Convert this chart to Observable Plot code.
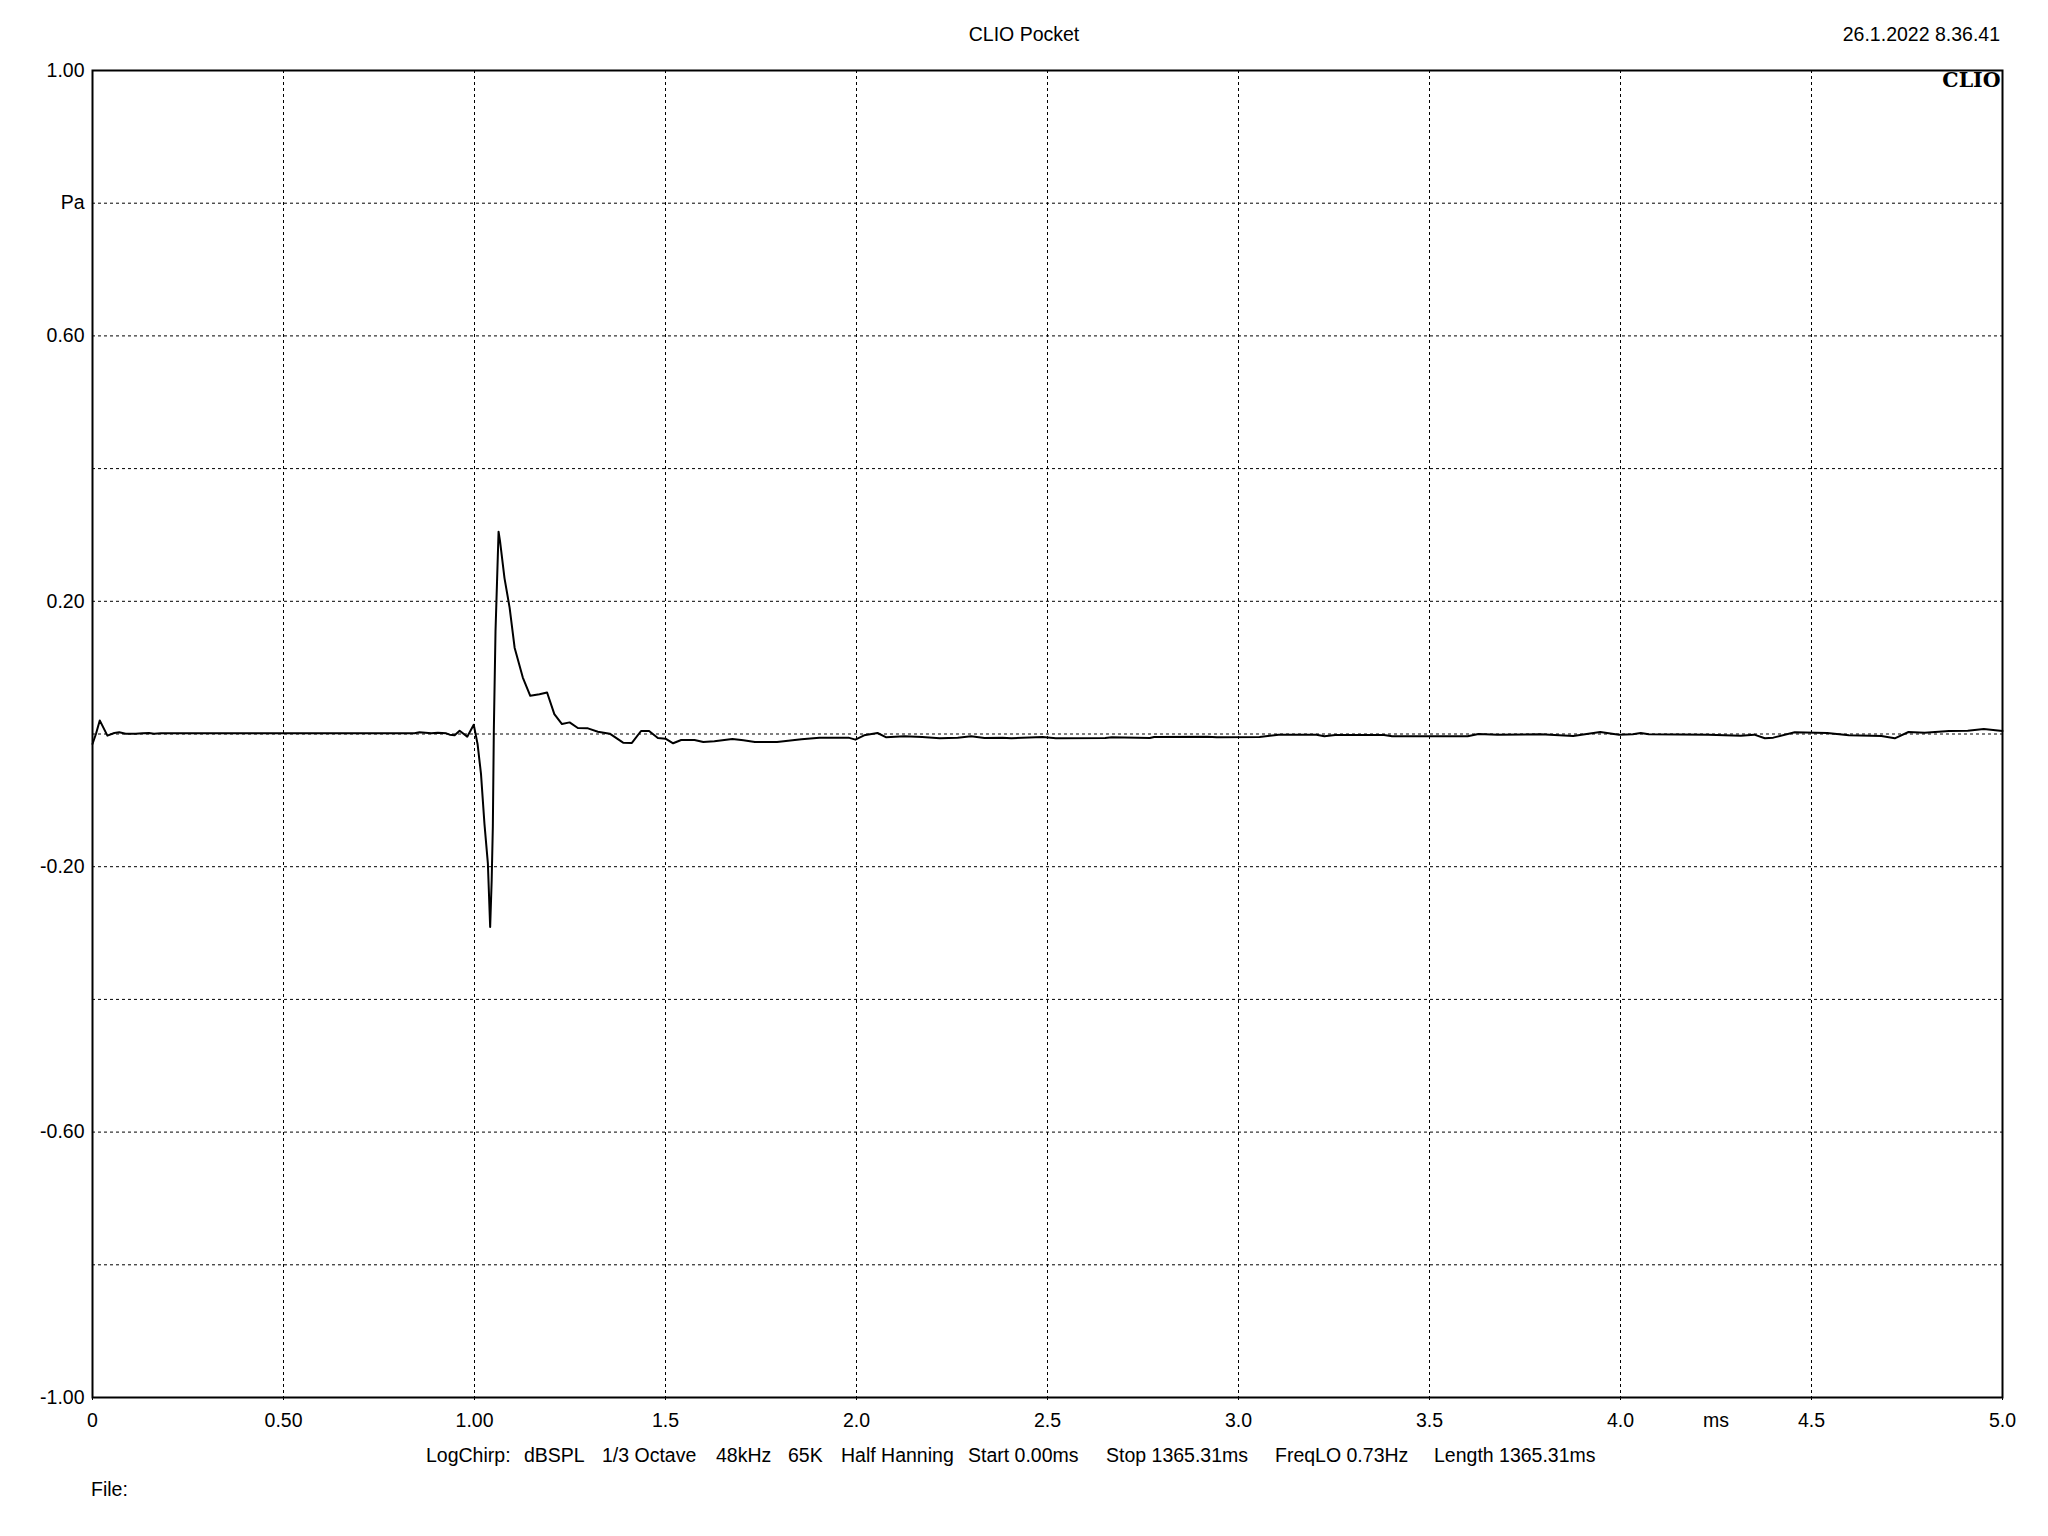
<!DOCTYPE html>
<html>
<head>
<meta charset="utf-8">
<script src="https://cdn.jsdelivr.net/npm/d3@7"></script>
<script src="https://cdn.jsdelivr.net/npm/@observablehq/plot@0.6"></script>
<style>
  html, body { margin: 0; padding: 0; background: #fff; }
  #page { position: relative; width: 2048px; height: 1536px; font-family: "Liberation Sans", Arial, sans-serif; color: #000; }
  .txt { position: absolute; font-size: 19.5px; line-height: 24px; white-space: pre; }
  #chart { position: absolute; left: 0; top: 52px; }
</style>
</head>
<body>
<div id="page">
  <div class="txt" id="title" style="left:0; width:2048px; top:22px; text-align:center;"></div>
  <div class="txt" id="date" style="right:48px; top:22px; text-align:right;"></div>
  <div id="chart"></div>
  <div id="caption"></div>
  <div class="txt" id="file" style="left:91px; top:1477px;"></div>
</div>
<script>
// ---- texts ----
const titleText = "CLIO Pocket";
const dateText = "26.1.2022 8.36.41";
const captionItems = ["LogChirp:", "dBSPL", "1/3 Octave", "48kHz", "65K", "Half Hanning", "Start 0.00ms", "Stop 1365.31ms", "FreqLO 0.73Hz", "Length 1365.31ms"];
const fileText = "File:";
const logoText = "CLIO";

// ---- axes ----
const xTickValues = [0, 0.5, 1, 1.5, 2, 2.5, 3, 3.5, 4, 4.5, 5];
const xTickLabels = ["0", "0.50", "1.00", "1.5", "2.0", "2.5", "3.0", "3.5", "4.0", "4.5", "5.0"];
const xUnitValue = 4.25;
const xUnitLabel = "ms";
const yTickValues = [1, 0.8, 0.6, 0.2, -0.2, -0.6, -1];
const yTickLabels = ["1.00", "Pa", "0.60", "0.20", "-0.20", "-0.60", "-1.00"];
const xGrid = [0.5, 1, 1.5, 2, 2.5, 3, 3.5, 4, 4.5];
const yGrid = [0.8, 0.6, 0.4, 0.2, 0, -0.2, -0.4, -0.6, -0.8];

// ---- series: time (ms) and pressure (Pa) ----
const timeMs = [
  0, 0.009, 0.019, 0.039, 0.057, 0.070, 0.087, 0.113, 0.131, 0.148, 0.161, 0.179,
  0.30, 0.50, 0.70, 0.843, 0.856, 0.887, 0.904, 0.926, 0.935, 0.948, 0.961, 0.981, 0.998,
  1.008, 1.017, 1.026, 1.035, 1.041, 1.045, 1.048, 1.0506, 1.055, 1.059, 1.063, 1.067,
  1.0785, 1.092, 1.105, 1.1265, 1.146, 1.170, 1.190, 1.209, 1.229, 1.249, 1.2705, 1.297,
  1.323, 1.354, 1.389, 1.412, 1.436, 1.457, 1.480, 1.500, 1.520, 1.541, 1.576, 1.599,
  1.628, 1.675, 1.704, 1.734, 1.792, 1.856, 1.903, 1.979, 1.997, 2.020, 2.055, 2.078,
  2.125, 2.172, 2.218, 2.265, 2.300, 2.335, 2.382, 2.405, 2.487, 2.522, 2.651, 2.668,
  2.768, 2.779, 2.919, 2.943, 3.055, 3.105, 3.204, 3.225, 3.253, 3.381, 3.402, 3.600,
  3.628, 3.678, 3.791, 3.876, 3.947, 3.996, 4.032, 4.053, 4.074, 4.230, 4.315, 4.350,
  4.378, 4.400, 4.456, 4.541, 4.598, 4.683, 4.718, 4.754, 4.796, 4.860, 4.909, 4.951, 5.0
];
const pressurePa = [
  -0.015, 0, 0.0205, -0.0025, 0.0015, 0.0025, 0.0005, 0.0005, 0.001, 0.0015, 0.0005, 0.001,
  0.001, 0.001, 0.001, 0.001, 0.0025, 0.001, 0.002, 0.001, -0.001, -0.002, 0.005, -0.004, 0.014,
  -0.015, -0.06, -0.135, -0.195, -0.291, -0.22, -0.14, 0.005, 0.155, 0.23, 0.305, 0.29,
  0.235, 0.19, 0.13, 0.085, 0.0575, 0.06, 0.0625, 0.03, 0.015, 0.0175, 0.009, 0.0085,
  0.0035, 0.0005, -0.013, -0.0135, 0.0045, 0.0045, -0.006, -0.007, -0.014, -0.009, -0.009, -0.012,
  -0.011, -0.0075, -0.0095, -0.012, -0.012, -0.008, -0.0055, -0.0055, -0.0085, -0.002, 0.0015, -0.005,
  -0.0035, -0.0045, -0.0065, -0.0055, -0.0035, -0.006, -0.0055, -0.0065, -0.0045, -0.0065, -0.006, -0.005,
  -0.006, -0.0045, -0.004, -0.005, -0.0045, -0.001, -0.001, -0.0035, -0.0015, -0.0015, -0.0035, -0.0035,
  0, -0.001, -0.0005, -0.003, 0.003, -0.001, -0.0005, 0.0015, -0.0005, -0.001, -0.0025, -0.001,
  -0.0065, -0.0055, 0.0025, 0.0015, -0.002, -0.003, -0.0065, 0.003, 0.002, 0.0045, 0.005, 0.0075, 0.0045
];

const data = timeMs.map((t, i) => ({t, v: pressurePa[i]}));
const xLabel = new Map(xTickValues.map((v, i) => [v, xTickLabels[i]]));
const yLabel = new Map(yTickValues.map((v, i) => [v, yTickLabels[i]]));

document.getElementById("title").textContent = titleText;
document.getElementById("date").textContent = dateText;
document.getElementById("file").textContent = fileText;

// caption items laid out along the footer line
const captionLeft = [426, 524, 602, 716, 788, 841, 968, 1106, 1275, 1434];
const cap = document.getElementById("caption");
captionItems.forEach((s, i) => {
  const d = document.createElement("div");
  d.className = "txt";
  d.style.left = captionLeft[i] + "px";
  d.style.top = "1443px";
  d.textContent = s;
  cap.appendChild(d);
});

const chart = Plot.plot({
  width: 2048,
  height: 1385,
  marginTop: 18,
  marginLeft: 92,
  marginRight: 46,
  marginBottom: 40,
  style: {fontFamily: "Liberation Sans, Arial, sans-serif", fontSize: "19.5px", color: "#000", background: "#fff", overflow: "visible"},
  x: {domain: [0, 5], label: null},
  y: {domain: [-1, 1], label: null},
  marks: [
    Plot.gridX(xGrid, {stroke: "#000", strokeOpacity: 1, strokeWidth: 1, strokeDasharray: "3,3"}),
    Plot.gridY(yGrid, {stroke: "#000", strokeOpacity: 1, strokeWidth: 1, strokeDasharray: "3,3"}),
    Plot.axisX(xTickValues, {tickSize: 5, tickPadding: 11, tickFormat: d => xLabel.get(d), fill: "#000", stroke: "#000", strokeDasharray: "3,2", label: null}),
    Plot.axisX([xUnitValue], {tickSize: 0, tickPadding: 16, tickFormat: () => xUnitLabel, fill: "#000", label: null}),
    Plot.axisY(yTickValues, {tickSize: 0, tickPadding: 8, tickFormat: d => yLabel.get(d), fill: "#000", label: null}),
    Plot.line(data, {x: "t", y: "v", stroke: "#000", strokeWidth: 2}),
    Plot.frame({stroke: "#000", strokeWidth: 2}),
    Plot.text([logoText], {frameAnchor: "top-right", dx: -2, dy: 2, text: d => d, fontFamily: "DejaVu Serif", fontWeight: "bold", fontSize: 20.5, fill: "#000"})
  ]
});
document.getElementById("chart").appendChild(chart);
</script>
</body>
</html>
